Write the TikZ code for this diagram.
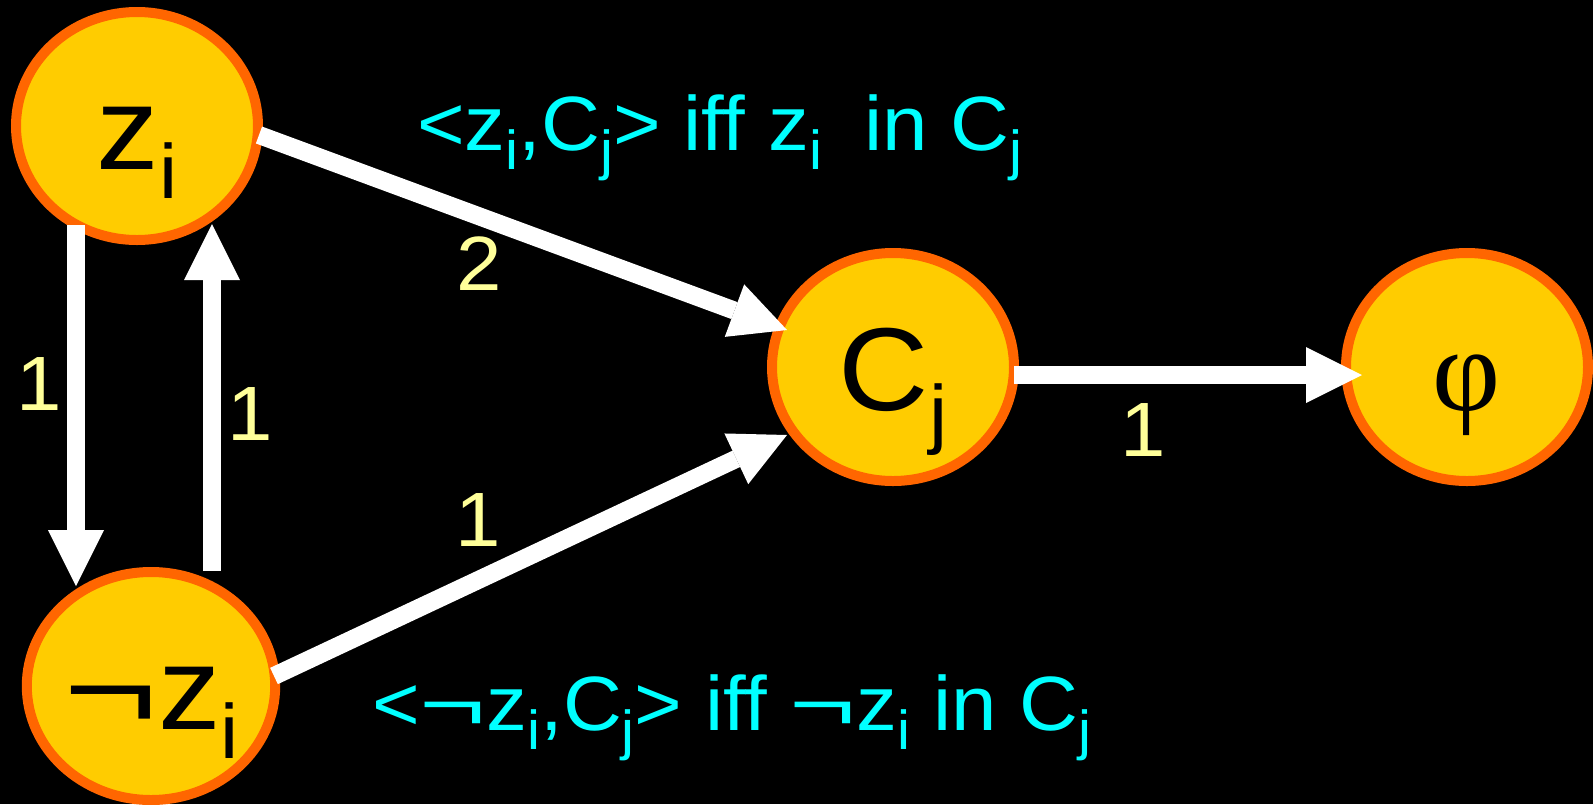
\documentclass[tikz,border=0pt]{standalone}
\usepackage{fontspec}
\setmainfont[FakeStretch=1.06]{Liberation Sans}
\newfontfamily\greekfont{Liberation Serif}
\usetikzlibrary{arrows.meta,shapes.geometric,calc}
\definecolor{gold}{HTML}{FFCC00}
\definecolor{rim}{HTML}{FF6600}
\definecolor{aqua}{HTML}{00FFFF}
\definecolor{pale}{HTML}{FFFF99}
\newcommand\nsub[1]{\raisebox{-29pt}{\fontsize{77}{80}\selectfont #1}}
\newcommand\tsub[1]{\raisebox{-19pt}{\fontsize{55}{60}\selectfont #1}}
\newcommand\negsign[1]{\scalebox{#1}[1]{¬}}
\newcommand\drop[1]{\raisebox{-43pt}[0pt][0pt]{#1}}
\tikzset{
  vert/.style={ellipse, draw=rim, fill=gold, line width=10pt, minimum width=242pt,
               minimum height=228pt, inner sep=0pt, text=black,
               font=\fontsize{118}{120}\selectfont},
  flow/.style={-{Triangle[length=56pt,width=56pt,line width=0pt]}, line width=18pt, draw=white},
  wt/.style={text=pale, font=\fontsize{77}{80}\selectfont, inner sep=0pt},
  cond/.style={text=aqua, font=\fontsize{77}{80}\selectfont, inner sep=0pt}
}

\begin{document}
\begin{tikzpicture}[x=1pt, y=-1pt]
  \useasboundingbox[fill=black] (0,0) rectangle (1593,804);
  % literal nodes, clause node and formula node
  \node[vert] (zi)  at (137,126)  {\drop{z\nsub{i}}};
  \node[vert] (nzi) at (151,686)  {\drop{\negsign{1.3}z\nsub{i}}};
  \node[vert] (cj)  at (893,367)  {\drop{C\nsub{j}}};
  \node[vert] (phi) at (1467,367) {\drop{\greekfont φ}};
  % edges
  \draw[flow] ($(zi.center)+(-61,99)$) -- ($(nzi.center)+(-75,-100)$);
  \draw[flow] ($(nzi.center)+(61,-115)$) -- ($(zi.center)+(75,98)$);
  \draw[flow] ($(zi.center)+(122,9)$) -- ($(cj.center)+(-106,-37)$);
  \draw[flow] ($(nzi.center)+(123,-10)$) -- ($(cj.center)+(-106,68)$);
  \draw[flow] ($(cj.center)+(121,8)$) -- ($(phi.center)+(-105,8)$);
  % capacities
  \node[wt] (c1) at (39,384)   {1};
  \node[wt] (c2) at (250,414)  {1};
  \node[wt] (c3) at (479,264)  {2};
  \node[wt] (c4) at (478,520)  {1};
  \node[wt] (c5) at (1143,430) {1};
  % conditions
  \node[cond, anchor=base west] (pos) at (417,150)
    {<z\tsub{i},C\tsub{j}> iff z\tsub{i}\hspace{0.55em}in C\tsub{j}};
  \node[cond, anchor=base west] (neg) at (372,730)
    {<\negsign{1.4}z\tsub{i},C\tsub{j}> iff \negsign{1.4}z\tsub{i} in C\tsub{j}};
\end{tikzpicture}
\end{document}
